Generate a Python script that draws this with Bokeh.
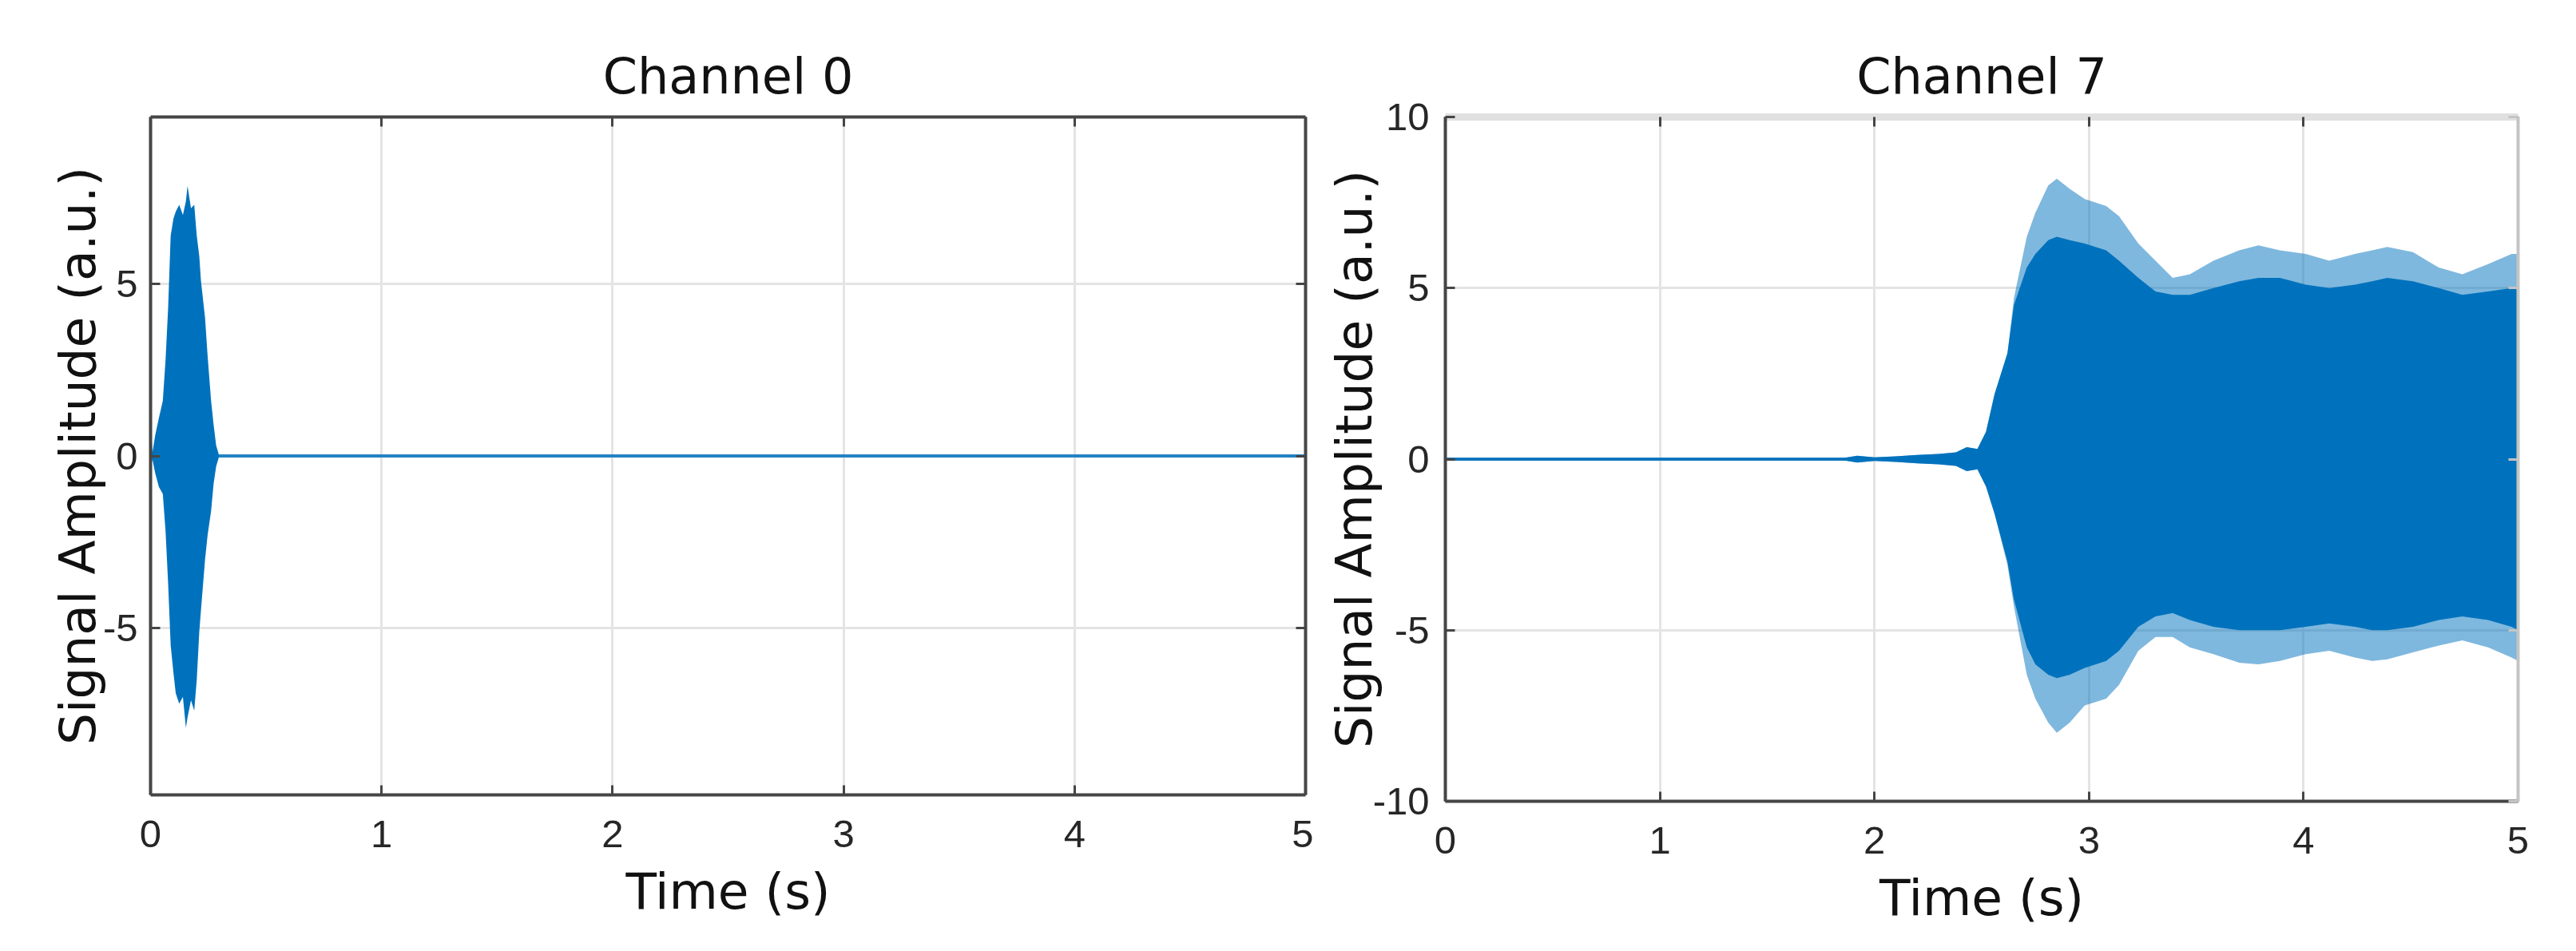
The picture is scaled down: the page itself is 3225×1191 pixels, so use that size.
from bokeh.plotting import figure
from bokeh.layouts import row
from bokeh.models import LinearAxis, FixedTicker, Range1d
from bokeh.embed import file_html
from bokeh.resources import INLINE

# ---------------- data ----------------
x_ticks = [0, 1, 2, 3, 4, 5]
y_ticks_ch0 = [-5, 0, 5]
y_ticks_ch7 = [-10, -5, 0, 5, 10]
y_labels_ch0 = {-5: "-5", 0: "0", 5: "5"}
y_labels_ch7 = {-10: "-10", -5: "-5", 0: "0", 5: "5", 10: "10"}

baseline_t = [0.0, 5.0]
baseline_v = [0.0, 0.0]

# Channel 0: envelope of the short burst near t = 0
ch0_t = [0.000, 0.008, 0.020, 0.036, 0.053, 0.065, 0.076, 0.087, 0.099, 0.109,
         0.124, 0.140, 0.153, 0.160, 0.175, 0.189, 0.200, 0.211, 0.218, 0.236,
         0.247, 0.262, 0.273, 0.284, 0.295]
ch0_upper = [1.0, 0.1, 0.6, 1.1, 1.6, 2.8, 4.3, 6.4, 6.9, 7.1,
             7.3, 7.0, 7.4, 7.85, 7.2, 7.3, 6.4, 5.8, 5.1, 4.0,
             2.9, 1.6, 0.9, 0.3, 0.05]
ch0_lower = [-0.3, -0.1, -0.5, -0.9, -1.1, -2.2, -3.7, -5.5, -6.3, -6.9,
             -7.2, -7.0, -7.9, -7.6, -7.1, -7.4, -6.5, -5.1, -4.5, -3.0,
             -2.3, -1.6, -0.8, -0.3, -0.05]

# Channel 7: envelope (spike tips) and dense core of the signal
ch7_t = [0.00, 1.85, 1.92, 2.00, 2.10, 2.20, 2.30, 2.38, 2.43, 2.48,
         2.52, 2.56, 2.62, 2.65, 2.71, 2.75, 2.81, 2.85, 2.91, 2.98,
         3.08, 3.14, 3.23, 3.31, 3.39, 3.47, 3.58, 3.70, 3.79, 3.89,
         4.01, 4.12, 4.24, 4.32, 4.39, 4.51, 4.63, 4.74, 4.86, 4.97, 5.00]
ch7_upper = [0.03, 0.03, 0.10, 0.05, 0.08, 0.12, 0.15, 0.20, 0.35, 0.30,
             0.8, 1.9, 3.1, 4.7, 6.5, 7.2, 8.0, 8.2, 7.9, 7.6,
             7.4, 7.1, 6.3, 5.8, 5.3, 5.4, 5.8, 6.1, 6.25, 6.1,
             6.0, 5.8, 6.0, 6.1, 6.2, 6.05, 5.6, 5.4, 5.7, 6.0, 6.0]
ch7_lower = [-0.03, -0.03, -0.10, -0.05, -0.08, -0.12, -0.15, -0.20, -0.35, -0.30,
             -0.8, -1.6, -3.1, -4.3, -6.3, -7.0, -7.7, -8.0, -7.7, -7.2,
             -7.0, -6.6, -5.6, -5.2, -5.2, -5.5, -5.7, -5.95, -6.0, -5.9,
             -5.7, -5.6, -5.8, -5.9, -5.85, -5.65, -5.45, -5.3, -5.5, -5.8, -5.9]
ch7_core_upper = [0.03, 0.03, 0.10, 0.05, 0.08, 0.12, 0.15, 0.20, 0.35, 0.30,
                  0.8, 1.9, 3.1, 4.5, 5.6, 6.0, 6.4, 6.5, 6.4, 6.3,
                  6.1, 5.8, 5.3, 4.9, 4.8, 4.8, 5.0, 5.2, 5.3, 5.3,
                  5.1, 5.0, 5.1, 5.2, 5.3, 5.2, 5.0, 4.8, 4.9, 5.0, 5.0]
ch7_core_lower = [-0.03, -0.03, -0.10, -0.05, -0.08, -0.12, -0.15, -0.20, -0.35, -0.30,
                  -0.8, -1.6, -3.0, -4.1, -5.5, -6.0, -6.3, -6.4, -6.3, -6.1,
                  -5.9, -5.6, -4.9, -4.6, -4.5, -4.7, -4.9, -5.0, -5.0, -5.0,
                  -4.9, -4.8, -4.9, -5.0, -5.0, -4.9, -4.7, -4.6, -4.7, -4.9, -5.0]

# ---------------- style ----------------
BLUE = "#0072BD"
AXIS = "#454545"
GRID = "#e4e4e4"
TEXT_FONT = "DejaVu Sans"
TICK_FONT = "Liberation Sans"


def make_fig(title, frame_w, frame_h, border_left, border_top, border_right, y_rng, y_ticks, y_labels,
             tick_standoff, label_standoff):
    border_bottom = 1191 - 16 - border_top - frame_h
    p = figure(width=border_left + frame_w + border_right,
               height=border_top + frame_h + border_bottom,
               frame_width=frame_w, frame_height=frame_h,
               min_border_left=border_left, min_border_right=border_right,
               min_border_top=border_top, min_border_bottom=border_bottom,
               x_range=Range1d(0, 5), y_range=Range1d(*y_rng),
               output_backend="svg", toolbar_location=None,
               x_axis_location=None, y_axis_location=None)
    p.background_fill_color = "white"
    p.border_fill_color = "white"
    p.outline_line_color = None

    p.title.text = title
    p.title.align = "center"
    p.title.text_font = TEXT_FONT
    p.title.text_font_size = "62px"
    p.title.text_font_style = "normal"
    p.title.text_color = "#111111"
    p.title.standoff = 30

    xb = LinearAxis(ticker=FixedTicker(ticks=x_ticks), axis_label="Time (s)")
    yl = LinearAxis(ticker=FixedTicker(ticks=y_ticks), axis_label="Signal Amplitude (a.u.)",
                    major_label_overrides=y_labels)
    for ax in (xb, yl):
        ax.major_label_text_font = TICK_FONT
        ax.major_label_text_font_size = "49px"
        ax.major_label_text_color = "#262626"
        ax.axis_label_text_font = TEXT_FONT
        ax.axis_label_text_font_size = "63px"
        ax.axis_label_text_font_style = "normal"
        ax.axis_label_text_color = "#111111"
        ax.axis_line_color = AXIS
        ax.axis_line_width = 4
        ax.major_tick_line_color = AXIS
        ax.major_tick_line_width = 3
        ax.major_tick_in = 12
        ax.major_tick_out = 0
        ax.minor_tick_line_color = None
    xb.major_label_standoff = 32
    xb.axis_label_standoff = 16
    yl.major_label_standoff = tick_standoff
    yl.axis_label_standoff = label_standoff
    p.add_layout(xb, "below")
    p.add_layout(yl, "left")

    xa = LinearAxis(ticker=FixedTicker(ticks=x_ticks))
    yr = LinearAxis(ticker=FixedTicker(ticks=y_ticks))
    for ax in (xa, yr):
        ax.major_label_text_font_size = "1px"
        ax.major_label_text_color = None
        ax.major_label_standoff = 0
        ax.axis_line_color = AXIS
        ax.axis_line_width = 4
        ax.major_tick_line_color = AXIS
        ax.major_tick_line_width = 3
        ax.major_tick_in = 12
        ax.major_tick_out = 0
        ax.minor_tick_line_color = None
    p.add_layout(xa, "above")
    p.add_layout(yr, "right")

    p.xgrid.ticker = FixedTicker(ticks=x_ticks)
    p.ygrid.ticker = FixedTicker(ticks=y_ticks)
    p.grid.grid_line_color = GRID
    p.grid.grid_line_width = 3
    return p, xa, yr


# Channel 0
p1, _, _ = make_fig("Channel 0", 1446, 849, 188, 146, 10, (-9.85, 9.85),
                    y_ticks_ch0, y_labels_ch0, 16, -8)
p1.line(baseline_t, baseline_v, line_color=BLUE, line_width=4, line_alpha=0.85)
p1.varea(x=ch0_t, y1=ch0_lower, y2=ch0_upper, fill_color=BLUE, fill_alpha=1.0)

# Channel 7
p2, xa2, yr2 = make_fig("Channel 7", 1343, 857, 165, 138, 40, (-10, 10),
                        y_ticks_ch7, y_labels_ch7, 20, -16)
xa2.axis_line_color = "#e0e0e0"
xa2.axis_line_width = 9
yr2.axis_line_color = "#c4c4c4"
yr2.major_tick_line_color = "#c4c4c4"
p2.line(baseline_t, baseline_v, line_color=BLUE, line_width=4, line_alpha=0.85)
p2.varea(x=ch7_t, y1=ch7_lower, y2=ch7_upper, fill_color=BLUE, fill_alpha=0.5)
p2.varea(x=ch7_t, y1=ch7_core_lower, y2=ch7_core_upper, fill_color=BLUE, fill_alpha=1.0)

layout = row(p1, p2)
open("out.html", "w").write(file_html(layout, INLINE))
